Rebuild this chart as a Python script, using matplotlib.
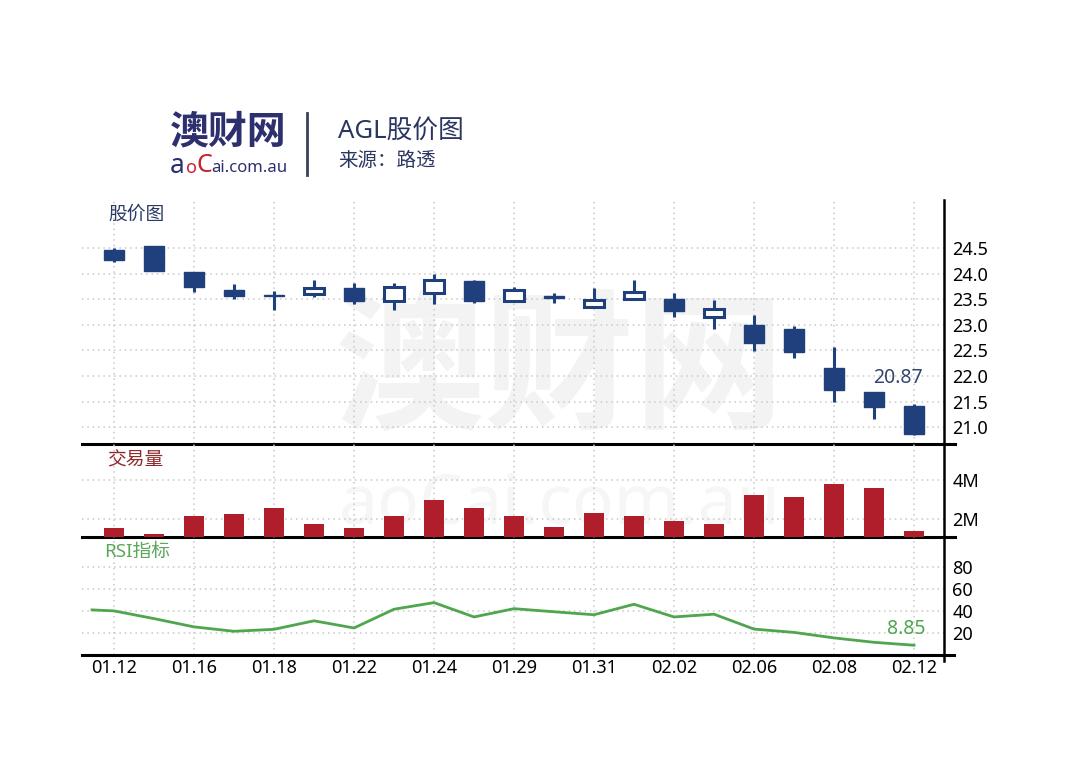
import numpy as np
import matplotlib
matplotlib.use("Agg")
import matplotlib.pyplot as plt

plt.rcParams['font.family'] = ['Noto Sans', 'Noto Sans CJK SC', 'DejaVu Sans']

dates = ["01.12", "01.13", "01.16", "01.17", "01.18", "01.19", "01.22", "01.23",
         "01.24", "01.25", "01.29", "01.30", "01.31", "02.01", "02.02", "02.05",
         "02.06", "02.07", "02.08", "02.09", "02.12"]
opens = [24.46, 24.54, 24.03, 23.69, 23.58, 23.61, 23.71, 23.46, 23.63, 23.86, 23.46,
         23.54, 23.35, 23.51, 23.51, 23.15, 23.00, 22.91, 22.15, 21.68, 21.42]
highs = [24.50, 24.55, 24.03, 23.79, 23.66, 23.87, 23.82, 23.82, 23.99, 23.87, 23.73,
         23.63, 23.71, 23.87, 23.63, 23.49, 23.20, 22.98, 22.56, 21.68, 21.45]
lows = [24.23, 24.05, 23.64, 23.51, 23.29, 23.54, 23.40, 23.28, 23.40, 23.42, 23.46,
        23.42, 23.35, 23.51, 23.16, 22.92, 22.49, 22.35, 21.49, 21.15, 20.84]
closes = [24.26, 24.05, 23.74, 23.57, 23.56, 23.72, 23.46, 23.74, 23.88, 23.46, 23.69,
          23.53, 23.48, 23.64, 23.27, 23.30, 22.64, 22.47, 21.72, 21.40, 20.87]
volume_m = [1.52, 1.23, 2.17, 2.27, 2.58, 1.76, 1.52, 2.17, 2.99, 2.55, 2.17,
            1.61, 2.32, 2.14, 1.88, 1.76, 3.22, 3.14, 3.81, 3.57, 1.38]
rsi_pos = [-0.55] + list(range(21))
rsi = [40.9, 40.0, 33.0, 25.5, 21.5, 23.3, 31.0, 24.5, 41.5, 47.5, 34.5, 42.0,
       39.2, 36.5, 46.0, 34.5, 37.0, 23.5, 20.5, 15.5, 11.5, 8.85]

price_ticks = [21.0, 21.5, 22.0, 22.5, 23.0, 23.5, 24.0, 24.5]
vol_ticks = [2, 4]
rsi_ticks = [20, 40, 60, 80]

blue = '#1f3f7d'
red = '#b01e2b'
green = '#4fa64f'
grid_kw = dict(color='#c8c8c8', linestyle=(0, (1, 2.5)), linewidth=1.1)

fig = plt.figure(figsize=(10.8, 7.66), dpi=100)
L, R = 82 / 1080, 944 / 1080
def fy(py):
    return 1 - py / 766

ax1 = fig.add_axes([L, fy(444), R - L, fy(200) - fy(444)])
ax2 = fig.add_axes([L, fy(537), R - L, fy(444) - fy(537)])
ax3 = fig.add_axes([L, fy(655), R - L, fy(537) - fy(655)])

# watermark
fig.text(560 / 1080, fy(378), "澳财网", fontsize=108, fontweight='bold',
         color='#f3f3f3', ha='center', va='center', zorder=-5)
fig.text(560 / 1080, fy(505), "aoCai.com.au", fontsize=50,
         color='#f6f6f6', ha='center', va='center', zorder=-5)

x = np.arange(len(dates))
tick_idx = list(range(0, len(dates), 2))
w = 0.52

for ax in (ax1, ax2, ax3):
    ax.set_facecolor('none')
    ax.set_xlim(-0.8, 20.75)
    for s in ('top', 'left'):
        ax.spines[s].set_visible(False)
    ax.spines['bottom'].set_linewidth(2.2)
    ax.spines['right'].set_linewidth(1.8)
    ax.yaxis.tick_right()
    ax.tick_params(axis='y', length=0, pad=6, labelsize=13)
    ax.tick_params(axis='x', length=0)
    ax.set_xticks(tick_idx)
    ax.grid(True, **grid_kw)
    ax.set_axisbelow(True)
ax1.spines['bottom'].set_bounds(-0.8, 21.03)
ax2.spines['bottom'].set_bounds(-0.8, 21.03)
ax3.spines['bottom'].set_bounds(-0.8, 21.0)

# candles
for i in range(len(dates)):
    o, h, l, c = opens[i], highs[i], lows[i], closes[i]
    ax1.vlines(x[i], l, h, color=blue, linewidth=2.2, zorder=2)
    bottom = min(o, c)
    height = max(abs(c - o), 0.03)
    if c >= o:
        ax1.bar(x[i], height, bottom=bottom, width=w, facecolor='white',
                edgecolor=blue, linewidth=2.2, zorder=3)
    else:
        ax1.bar(x[i], height, bottom=bottom, width=w, facecolor=blue,
                edgecolor=blue, linewidth=1, zorder=3)
ax1.set_ylim(20.67, 25.44)
ax1.set_yticks(price_ticks)
ax1.set_yticklabels([f"{t:.1f}" for t in price_ticks])
ax1.set_xticklabels([])
ax1.text(20 - 0.4, 21.97, f"{closes[-1]:.2f}", fontsize=14, color='#34466f',
         ha='center', va='center')
ax1.text(108 / 1080, fy(215), "股价图", transform=fig.transFigure, fontsize=13.5,
         color='#2b3a67', va='center')

# volume
ax2.bar(x, volume_m, width=w, color=red, zorder=3)
ax2.set_ylim(1.08, 5.85)
ax2.set_yticks(vol_ticks)
ax2.set_yticklabels([f"{t}M" for t in vol_ticks])
ax2.set_xticklabels([])
ax2.text(107 / 1080, fy(460), "交易量", transform=fig.transFigure, fontsize=13.5,
         color='#8e2a2c', va='center')

# rsi
ax3.plot(rsi_pos, rsi, color=green, linewidth=2, zorder=3)
ax3.set_ylim(0, 107)
ax3.spines['right'].set_bounds(-5, 107)
ax3.set_yticks(rsi_ticks)
ax3.set_xticklabels([dates[i] for i in tick_idx], fontsize=13)
ax3.tick_params(axis='x', pad=3)
ax3.text(19.8, 24, f"{rsi[-1]:.2f}", fontsize=14, color=green,
         ha='center', va='center')
ax3.text(104 / 1080, fy(552), "RSI指标", transform=fig.transFigure, fontsize=13.5,
         color='#5aa65a', va='center')

# header
navy = '#2d2f6e'
fig.text(170 / 1080, fy(133), "澳财网", fontsize=28, fontweight='bold', color=navy,
         va='center', ha='left')
fig.text(170 / 1080, fy(166), "a", fontsize=19, color=navy, va='center')
fig.text(186 / 1080, fy(168), "o", fontsize=13, color='#c8202f', va='center')
fig.text(196 / 1080, fy(166), "C", fontsize=18, color='#c8202f', va='center')
fig.text(211 / 1080, fy(168), "ai.com.au", fontsize=12, color=navy, va='center')
fig.add_artist(plt.Line2D([307 / 1080, 307 / 1080], [fy(113), fy(175)],
                          color='#3a3f5a', linewidth=2))
fig.text(338 / 1080, fy(131), "AGL股价图", fontsize=18.5, color='#2a3560', va='center')
fig.text(338 / 1080, fy(161), "来源：路透", fontsize=14, color='#2a3560', va='center')

fig.savefig("out.png", dpi=100)
